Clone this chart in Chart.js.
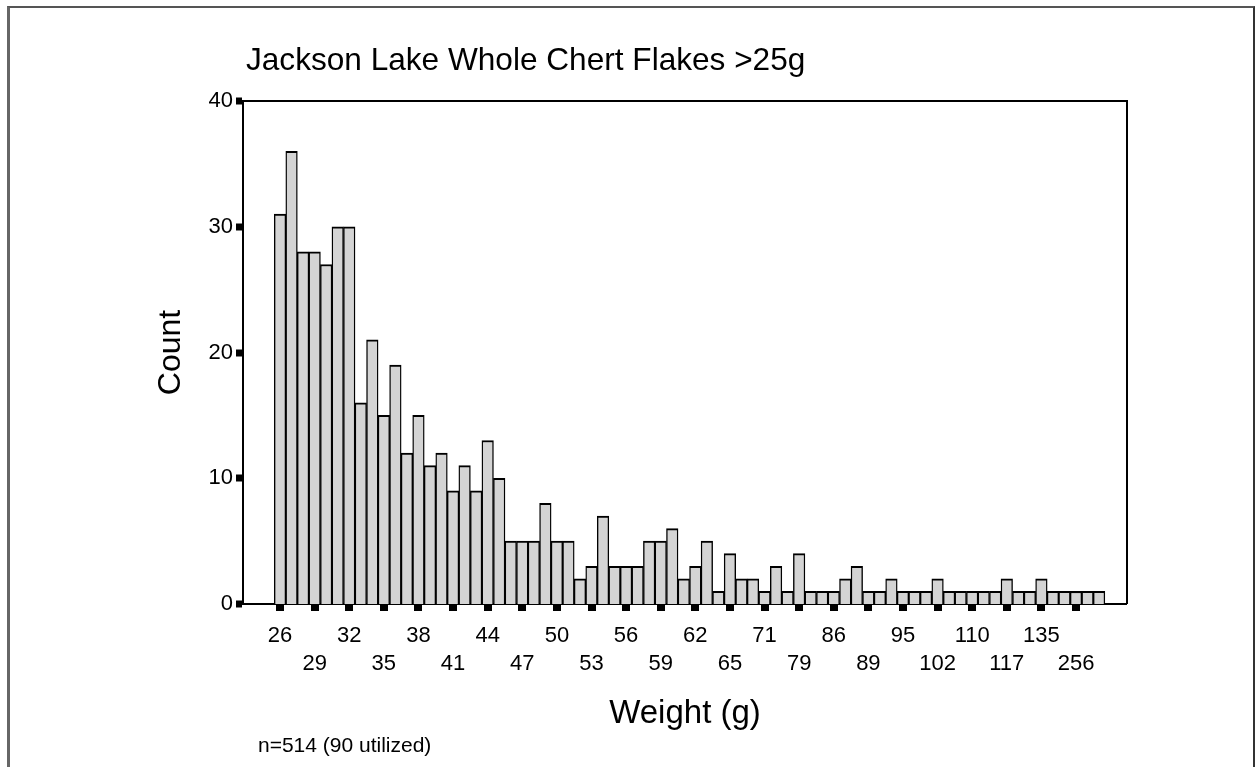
<!DOCTYPE html>
<html>
<head>
<meta charset="utf-8">
<title>Jackson Lake Whole Chert Flakes &gt;25g</title>
<script src="https://cdn.jsdelivr.net/npm/chart.js@4.4.1/dist/chart.umd.min.js"></script>
<style>
  html, body { margin: 0; padding: 0; background: #ffffff; }
  #wrap { position: relative; width: 1256px; height: 767px; overflow: hidden; background: #ffffff; }
  #chart { position: absolute; left: 0; top: 0; }
  #frame {
    position: absolute; left: 7px; top: 6px; width: 1243px; height: 800px;
    border-left: 3px solid #666; border-top: 2px solid #555; border-right: 2px solid #333;
    pointer-events: none;
  }
</style>
</head>
<body>
<div id="wrap">
  <canvas id="chart" width="1256" height="767"></canvas>
  <div id="frame"></div>
</div>
<script>
// Text
const titleText = 'Jackson Lake Whole Chert Flakes >25g';
const xTitle = 'Weight (g)';
const yTitle = 'Count';
const noteText = 'n=514 (90 utilized)';

// Weight labels shown under every third bar (g)
const weightLabels = ['26', '29', '32', '35', '38', '41', '44', '47', '50', '53', '56', '59',
                      '62', '65', '71', '79', '86', '89', '95', '102', '110', '117', '135', '256'];
const barsPerLabel = 3;

// Flake counts per weight class, in order
const counts = [
  31, 36, 28, 28, 27, 30, 30, 16, 21, 15, 19, 12, 15, 11, 12, 9, 11, 9, 13, 10,
  5, 5, 5, 8, 5, 5, 2, 3, 7, 3, 3, 3, 5, 5, 6, 2, 3, 5, 1, 4, 2, 2, 1, 3, 1, 4,
  1, 1, 1, 2, 3, 1, 1, 2, 1, 1, 1, 2, 1, 1, 1, 1, 1, 2, 1, 1, 2, 1, 1, 1, 1, 1
];

// Count axis
const yMin = 0;
const yMax = 40;
const yStep = 10;

const FONT = '"Liberation Sans", Arial, Helvetica, sans-serif';
Chart.defaults.font.family = FONT;
Chart.defaults.color = '#000';

// Title, footnote and the top/right plot frame
const chartDecor = {
  id: 'chartDecor',
  afterDraw(chart) {
    const { ctx, chartArea } = chart;
    ctx.save();
    ctx.fillStyle = '#000';
    ctx.textAlign = 'left';
    ctx.textBaseline = 'alphabetic';
    ctx.font = '31.6px ' + FONT;
    ctx.fillText(titleText, chartArea.left + 3, chartArea.top - 31);
    ctx.font = '21px ' + FONT;
    ctx.fillText(noteText, chartArea.left + 15, 752);

    ctx.strokeStyle = '#000';
    ctx.lineWidth = 2;
    ctx.beginPath();
    ctx.moveTo(chartArea.left, chartArea.top);
    ctx.lineTo(chartArea.right, chartArea.top);
    ctx.lineTo(chartArea.right, chartArea.bottom);
    ctx.stroke();
    ctx.restore();
  }
};

const bars = counts.map((c, i) => ({ x: i, y: c }));
const labelIndex = weightLabels.map((_, k) => k * barsPerLabel);

new Chart(document.getElementById('chart'), {
  type: 'bar',
  data: {
    datasets: [{
      data: bars,
      backgroundColor: '#d4d4d4',
      borderColor: '#000',
      borderWidth: { top: 2, left: 1.4, right: 1.4, bottom: 0 },
      borderSkipped: false,
      barPercentage: 1.0,
      categoryPercentage: 1.0
    }]
  },
  options: {
    responsive: false,
    animation: false,
    devicePixelRatio: 1,
    layout: { padding: { left: 140, top: 101, right: 129, bottom: 25 } },
    plugins: { legend: { display: false }, tooltip: { enabled: false }, title: { display: false } },
    scales: {
      x: {
        type: 'linear',
        offset: false,
        min: -3.21,
        max: 73.42,
        afterBuildTicks(scale) {
          scale.ticks = labelIndex.map(v => ({ value: v }));
        },
        afterFit(scale) { scale.height = 138; },
        ticks: {
          autoSkip: false,
          maxRotation: 0,
          padding: 11,
          font: { size: 22, lineHeight: '28px' },
          color: '#000',
          callback(value) {
            const k = Math.round(value / barsPerLabel);
            const label = weightLabels[k];
            return k % 2 === 0 ? [label, ''] : ['', label];
          }
        },
        grid: {
          display: true,
          offset: false,
          drawOnChartArea: false,
          drawTicks: true,
          tickLength: 7,
          tickWidth: 8,
          tickColor: '#000',
          lineWidth: 0
        },
        border: { display: true, color: '#000', width: 2 },
        title: {
          display: true,
          text: xTitle,
          font: { size: 33 },
          color: '#000',
          padding: { top: 0, bottom: 8 }
        }
      },
      y: {
        min: yMin,
        max: yMax,
        afterFit(scale) { scale.width = 103; },
        ticks: {
          stepSize: yStep,
          padding: 3,
          font: { size: 22 },
          color: '#000'
        },
        grid: {
          display: true,
          drawOnChartArea: false,
          drawTicks: true,
          tickLength: 7,
          tickWidth: 7,
          tickColor: '#000',
          lineWidth: 0
        },
        border: { display: true, color: '#000', width: 2 },
        title: {
          display: true,
          text: yTitle,
          font: { size: 32 },
          color: '#000',
          padding: { top: 12, bottom: 0 }
        }
      }
    }
  },
  plugins: [chartDecor]
});
</script>
</body>
</html>
